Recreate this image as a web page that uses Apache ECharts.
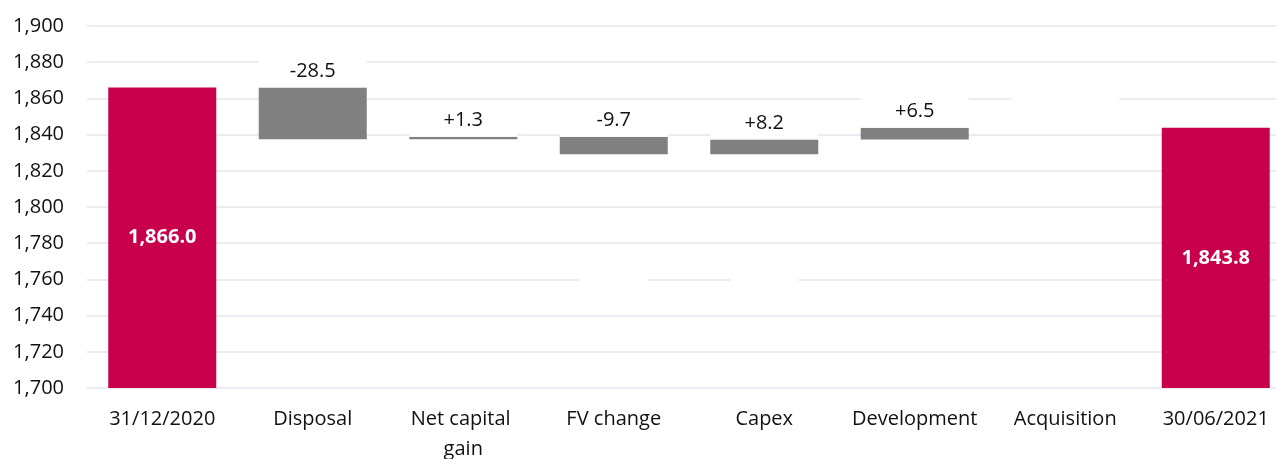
<!DOCTYPE html>
<html><head><meta charset="utf-8">
<script src="https://cdn.jsdelivr.net/npm/echarts@6/dist/echarts.min.js"></script>
<style>html,body{margin:0;padding:0;background:#fff}#c{width:1276px;height:459px}</style>
</head><body><div id="c"></div>
<script>
const categories = ['31/12/2020','Disposal','Net capital gain','FV change','Capex','Development','Acquisition','30/06/2021'];
const startValue = 1866.0;
const deltas = [-28.5, 1.3, -9.7, 8.2, 6.5, 0];
const endValue = 1843.8;
const yTicks = {min: 1700, max: 1900, interval: 20};

const FONT = '"Open Sans", "Noto Sans", sans-serif';
const RED = '#C8004B', GREY = '#808080';

const baseData = ['-'];
const barData = [];
barData.push({value: startValue, itemStyle:{color:RED},
  label:{show:true, position:'inside', color:'#fff', fontWeight:'bold', fontSize:20, fontFamily:FONT,
    formatter: () => startValue.toLocaleString('en-US',{minimumFractionDigits:1, maximumFractionDigits:1})}});
let run = startValue;
deltas.forEach(d => {
  const next = Math.round((run + d)*10)/10;
  baseData.push(Math.min(run, next));
  const txt = d === 0 ? ' ' : (d > 0 ? '+' : '') + d.toFixed(1);
  barData.push({value: Math.abs(d), itemStyle:{color:GREY},
    label:{show:true, position:'top', distance:0, width:108, height:32, lineHeight:32,
      backgroundColor:'#fff', color:'#111', fontSize:20, fontFamily:FONT,
      formatter: () => txt}});
  run = next;
});
baseData.push('-');
barData.push({value: endValue, itemStyle:{color:RED},
  label:{show:true, position:'inside', color:'#fff', fontWeight:'bold', fontSize:20, fontFamily:FONT,
    formatter: () => endValue.toLocaleString('en-US',{minimumFractionDigits:1, maximumFractionDigits:1})}});

const chart = echarts.init(document.getElementById('c'), null, {renderer:'canvas'});
chart.setOption({
  animation:false,
  grid:{left:87, right:-15, top:26, bottom:71, containLabel:false, outerBoundsMode:'none'},
  xAxis:{type:'category', data:categories,
    axisLine:{show:false}, axisTick:{show:false},
    axisLabel:{interval:0, color:'#111', fontSize:20, fontFamily:FONT, margin:16, lineHeight:30,
      width:140, overflow:'break'}},
  yAxis:{type:'value', min:yTicks.min, max:yTicks.max, interval:yTicks.interval,
    axisLine:{show:false}, axisTick:{show:false},
    axisLabel:{color:'#111', fontSize:20, fontFamily:FONT, margin:23,
      formatter: v => v.toLocaleString('en-US')},
    splitLine:{show:true, lineStyle:{color:'#E4E4EC', width:1.5}}},
  series:[
    {type:'bar', stack:'w', data:baseData, barWidth:108,
      itemStyle:{color:'rgba(0,0,0,0)'},
      label:{show:true, position:'inside', color:'#fff', backgroundColor:'#fff', fontWeight:'bold',
        fontSize:20, fontFamily:FONT,
        formatter: p => Number(p.value).toLocaleString('en-US',{minimumFractionDigits:1, maximumFractionDigits:1})}},
    {type:'bar', stack:'w', data:barData, barWidth:108}
  ]
});
</script></body></html>
